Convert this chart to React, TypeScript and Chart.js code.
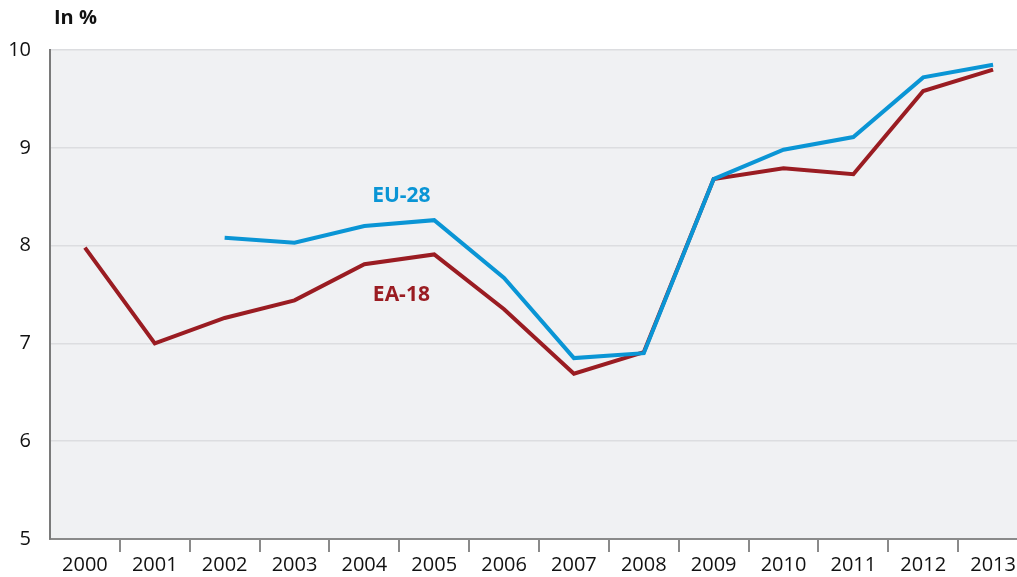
import React, { useEffect, useRef } from "react";
import { Chart, registerables } from "chart.js";

Chart.register(...registerables);

const years = ["2000", "2001", "2002", "2003", "2004", "2005", "2006", "2007", "2008", "2009", "2010", "2011", "2012", "2013"];
const ea18 = [7.98, 7.0, 7.26, 7.44, 7.81, 7.91, 7.35, 6.69, 6.91, 8.68, 8.79, 8.73, 9.58, 9.8];
const eu28 = [null, null, 8.08, 8.03, 8.2, 8.26, 7.67, 6.85, 6.9, 8.68, 8.98, 9.11, 9.72, 9.85];
const yTicks = [5, 6, 7, 8, 9, 10];
const unitLabel = "In %";

const FONT = "'Open Sans', 'Noto Sans', sans-serif";
const BLUE = "#0a95d5";
const RED = "#9a1c22";

const decorPlugin = {
  id: "decor",
  beforeDraw(chart: any) {
    const { ctx, chartArea } = chart;
    ctx.save();
    ctx.fillStyle = "#f0f1f3";
    ctx.fillRect(chartArea.left, chartArea.top, chartArea.right - chartArea.left, chartArea.bottom - chartArea.top);
    ctx.restore();
  },
  afterDraw(chart: any) {
    const { ctx } = chart;
    const x = chart.scales.x;
    const y = chart.scales.y;
    ctx.save();
    ctx.textBaseline = "middle";
    ctx.textAlign = "left";
    ctx.fillStyle = "#111";
    ctx.font = `bold 20px ${FONT}`;
    ctx.fillText(unitLabel, 54, 18);
    ctx.font = `bold 21px ${FONT}`;
    ctx.textAlign = "center";
    ctx.fillStyle = BLUE;
    ctx.fillText("EU-28", x.getPixelForValue(4.53), y.getPixelForValue(8.51));
    ctx.fillStyle = RED;
    ctx.fillText("EA-18", x.getPixelForValue(4.53), y.getPixelForValue(7.49));
    ctx.restore();
  },
};

export default function App() {
  const ref = useRef<HTMLCanvasElement>(null);
  useEffect(() => {
    const chart = new Chart(ref.current as HTMLCanvasElement, {
      type: "line",
      data: {
        labels: years,
        datasets: [
          { label: "EU-28", data: eu28 as any, borderColor: BLUE, borderWidth: 4, pointRadius: 0, tension: 0, spanGaps: false },
          { label: "EA-18", data: ea18, borderColor: RED, borderWidth: 4, pointRadius: 0, tension: 0 },
        ],
      },
      options: {
        animation: false,
        responsive: false,
        maintainAspectRatio: false,
        layout: { padding: { top: 50, right: 0, left: 0, bottom: 0 } },
        plugins: { legend: { display: false }, tooltip: { enabled: false }, title: { display: false } },
        scales: {
          x: {
            type: "category",
            offset: true,
            grid: {
              offset: true,
              drawOnChartArea: false,
              drawTicks: true,
              tickLength: 13,
              color: (c: any) => (c.index === 0 ? "rgba(0,0,0,0)" : "#8a8a8a"),
              lineWidth: 2,
            },
            border: { display: true, color: "#8a8a8a", width: 2 },
            ticks: { color: "#111", font: { family: FONT, size: 20 }, padding: 1, maxRotation: 0, autoSkip: false },
            afterFit: (s: any) => { s.height = 38; },
          },
          y: {
            min: 5,
            max: 10,
            afterBuildTicks: (s: any) => { s.ticks = yTicks.map((v) => ({ value: v })); },
            grid: { color: "#dcdde0", lineWidth: 1.5, drawTicks: false },
            border: { display: true, color: "#7a7a7a", width: 2 },
            ticks: { color: "#111", font: { family: FONT, size: 20 }, padding: 19 },
            afterFit: (s: any) => { s.width = 50; },
          },
        },
      },
      plugins: [decorPlugin],
    });
    return () => chart.destroy();
  }, []);
  return (
    <div style={{ position: "fixed", left: 0, top: 0, width: 1017, height: 577, overflow: "hidden", background: "#fff" }}>
      <canvas ref={ref} width={1028} height={577} style={{ width: 1028, height: 577, display: "block" }} />
    </div>
  );
}
